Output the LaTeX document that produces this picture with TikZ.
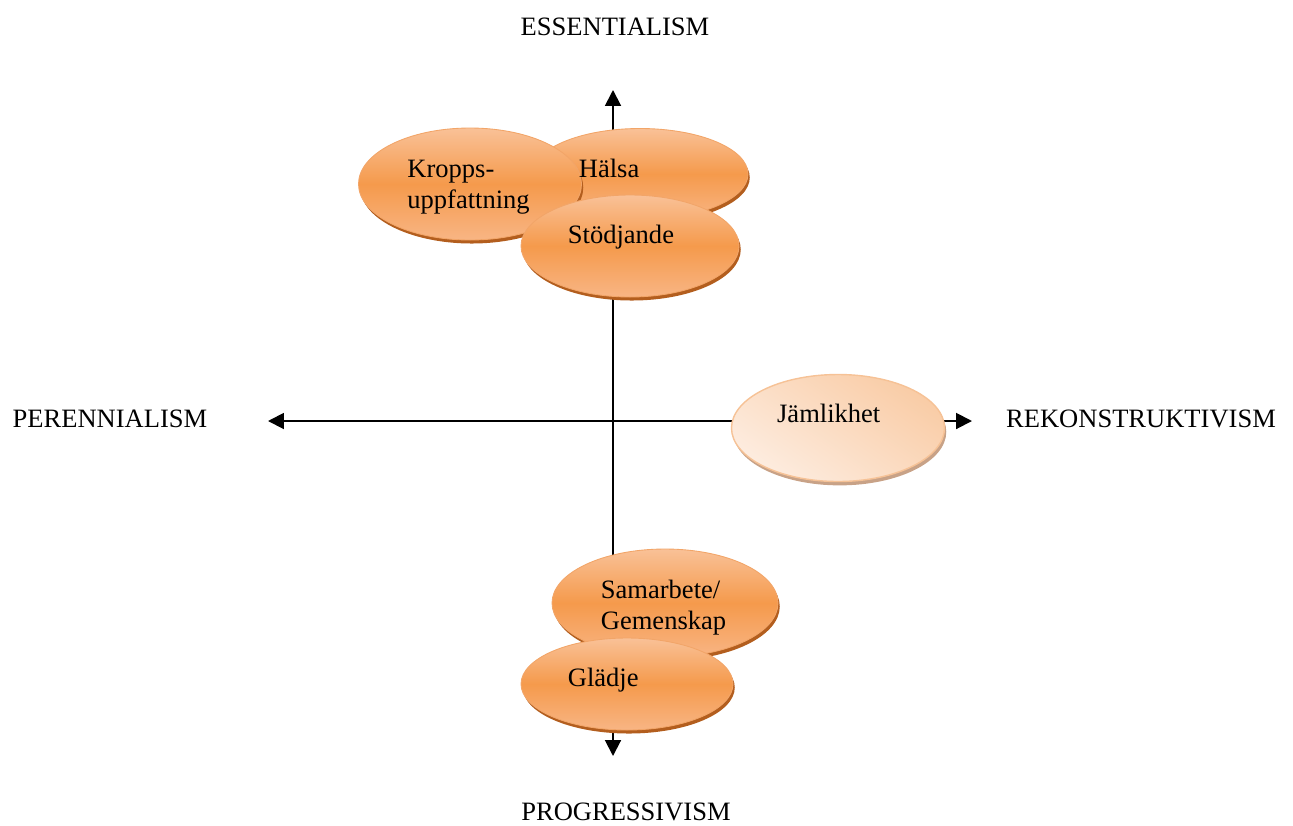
\documentclass[tikz,border=0pt]{standalone}
\usepackage{fontspec}
\setmainfont{Liberation Serif}
\usepackage{tikz}
\usetikzlibrary{positioning,calc,arrows.meta,shapes.geometric,shadows}

\definecolor{peachTop}{HTML}{F9C197}
\definecolor{orangeMid}{HTML}{F59A4C}
\definecolor{peachBot}{HTML}{F8B584}
\definecolor{orangeRim}{HTML}{F2A568}
\definecolor{rustShadow}{HTML}{B35E1E}
\definecolor{paleA}{HTML}{F9CCA6}
\definecolor{paleB}{HTML}{FDECDF}
\definecolor{paleRim}{HTML}{F6C296}
\definecolor{paleShadow}{HTML}{C8A287}

\tikzset{
  axis/.style={line width=1.1pt, -{Triangle[length=9pt,width=9pt]}},
  axislabel/.style={inner sep=0pt, font=\fontsize{15.1}{17.6}\selectfont},
  blob/.style={ellipse, inner sep=0pt, draw=orangeRim, line width=0.5pt,
    top color=peachTop, bottom color=peachBot, middle color=orangeMid,
    drop shadow={shadow xshift=1pt, shadow yshift=-2pt, fill=rustShadow, opacity=1}},
  paleblob/.style={ellipse, inner sep=0pt, draw=paleRim, line width=0.8pt,
    left color=paleA, right color=paleB, shading angle=-35,
    drop shadow={shadow xshift=1pt, shadow yshift=-2.2pt, fill=paleShadow, opacity=1}},
  lbl/.style={anchor=north west, inner sep=0pt, align=left,
    font=\fontsize{15.1}{17.6}\selectfont},
}

\begin{document}
\begin{tikzpicture}[x=0.02cm, y=-0.02cm]
    \def\pxu{0.02cm}
    \useasboundingbox (0,0) rectangle (1293,825);

    % axes
    \coordinate (O) at (613,421);
    \coordinate (N) at (613,90);
    \coordinate (S) at (613,756);
    \coordinate (W) at (268,421);
    \coordinate (E) at (972,421);
    \draw[axis] (O) -- (N);
    \draw[axis] (O) -- (S);
    \draw[axis] (O) -- (W);
    \draw[axis] (O) -- (E);

    \node[axislabel] (ess) at (615,27) {ESSENTIALISM};
    \node[axislabel] (prog) at (626,812) {PROGRESSIVISM};
    \node[axislabel] (per) at (110,419) {PERENNIALISM};
    \node[axislabel] (rek) at (1141,419) {REKONSTRUKTIVISM};

    % upper cluster
    \node[blob, minimum width=216*\pxu, minimum height=91*\pxu] (halsa) at (640,174) {};
    \node[blob, minimum width=223*\pxu, minimum height=112*\pxu] (kropp) at (470,184) {};
    \node[blob, minimum width=218*\pxu, minimum height=102*\pxu] (stod) at (630,246) {};
    \node[lbl] (halsaTxt) at ($(halsa.west |- halsa.north)+(47,31)$) {Hälsa};
    \node[lbl] (kroppTxt) at ($(kropp.west |- kropp.north)+(49,32)$) {Kropps-\\uppfattning};
    \node[lbl] (stodTxt) at ($(stod.west |- stod.north)+(47,30)$) {Stödjande};

    % right
    \node[paleblob, minimum width=213*\pxu, minimum height=107*\pxu] (jaml) at (838,428) {};
    \node[lbl] (jamlTxt) at ($(jaml.west |- jaml.north)+(46,30)$) {Jämlikhet};

    % lower cluster
    \node[blob, minimum width=226*\pxu, minimum height=108*\pxu] (samar) at (665,603) {};
    \node[blob, minimum width=212*\pxu, minimum height=92*\pxu] (gladje) at (627,684) {};
    \node[lbl] (samarTxt) at ($(samar.west |- samar.north)+(49,31)$) {Samarbete/\\Gemenskap};
    \node[lbl] (gladjeTxt) at ($(gladje.west |- gladje.north)+(47,30)$) {Glädje};
\end{tikzpicture}
\end{document}
